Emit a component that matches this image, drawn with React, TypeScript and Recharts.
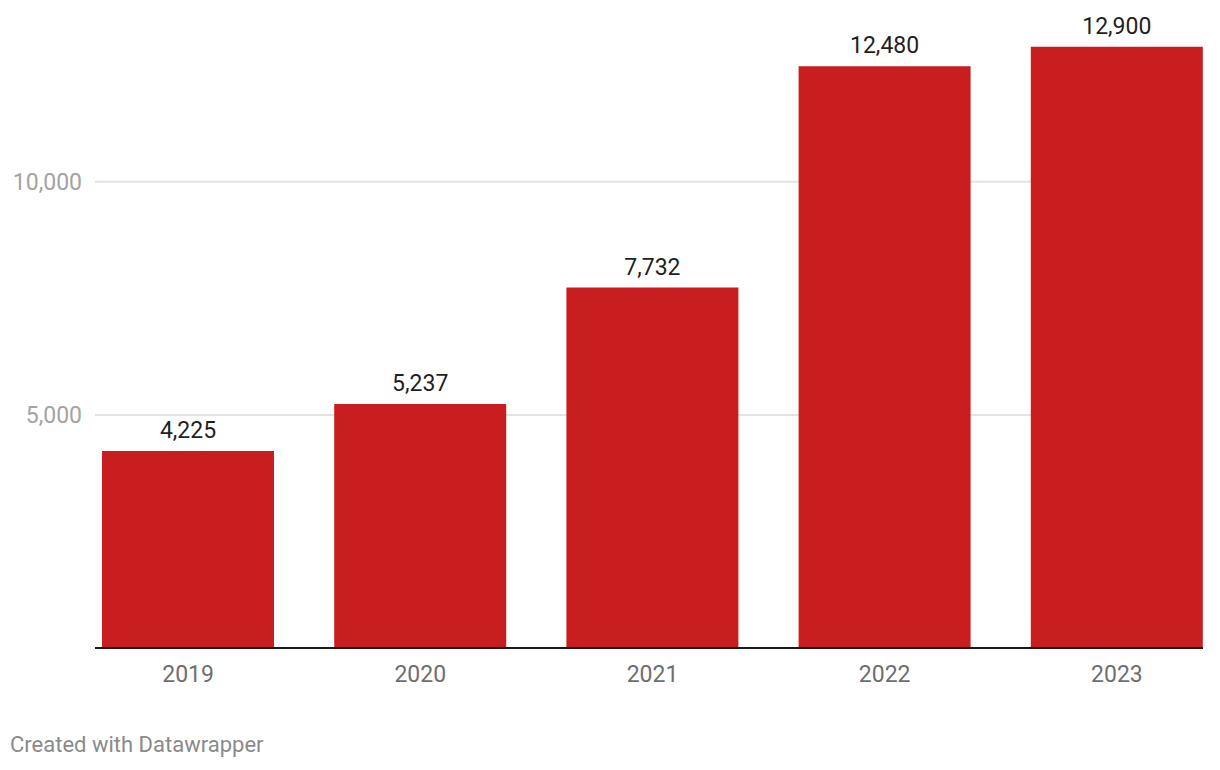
import { BarChart, Bar, XAxis, YAxis, CartesianGrid, LabelList } from "recharts";

const years = ["2019", "2020", "2021", "2022", "2023"];
const values = [4225, 5237, 7732, 12480, 12900];
const yTicks = [0, 5000, 10000];

const data = years.map((year, i) => ({ year, value: values[i] }));

const fmt = (v: number) => v.toLocaleString("en-US");

function YTick(props: any) {
  const { x, y, payload } = props;
  if (payload.value === 0) return null;
  return (
    <text x={x} y={y} dy={8} textAnchor="end" fill="#a3a3a3" fontSize={23} fontFamily="Roboto">
      {fmt(payload.value)}
    </text>
  );
}

export default function App() {
  return (
    <div style={{ position: "absolute", left: 0, top: 0, width: 1220, height: 770, background: "#fff", fontFamily: "Roboto" }}>
      <BarChart
        width={1220}
        height={770}
        data={data}
        margin={{ top: 42, right: 17, left: 0, bottom: 82 }}
        barSize={172}
      >
        {/* syncWithTicks keeps the grid off the plot's top edge */}
        <CartesianGrid vertical={false} stroke="#e3e3e3" strokeWidth={2} syncWithTicks />
        <XAxis
          dataKey="year"
          padding={{ left: -23, right: -30 }}
          axisLine={{ stroke: "#1a1a1a", strokeWidth: 2 }}
          tickLine={false}
          height={40}
          tickMargin={12}
          tick={{ fill: "#6e6e6e", fontSize: 23, fontFamily: "Roboto" }}
        />
        <YAxis
          width={95}
          domain={[0, 13000]}
          ticks={yTicks}
          axisLine={false}
          tickLine={false}
          tickSize={0}
          tickMargin={13}
          tick={<YTick />}
        />
        <Bar dataKey="value" fill="#c91e1f" isAnimationActive={false}>
          <LabelList
            dataKey="value"
            position="top"
            offset={13}
            formatter={(v: any) => fmt(Number(v))}
            fill="#1f1f1f"
            fontSize={23}
            fontFamily="Roboto"
          />
        </Bar>
      </BarChart>
      <div style={{ position: "absolute", left: 10, top: 732, fontSize: 22, color: "#8a8a8a", fontFamily: "Roboto" }}>
        Created with Datawrapper
      </div>
    </div>
  );
}
